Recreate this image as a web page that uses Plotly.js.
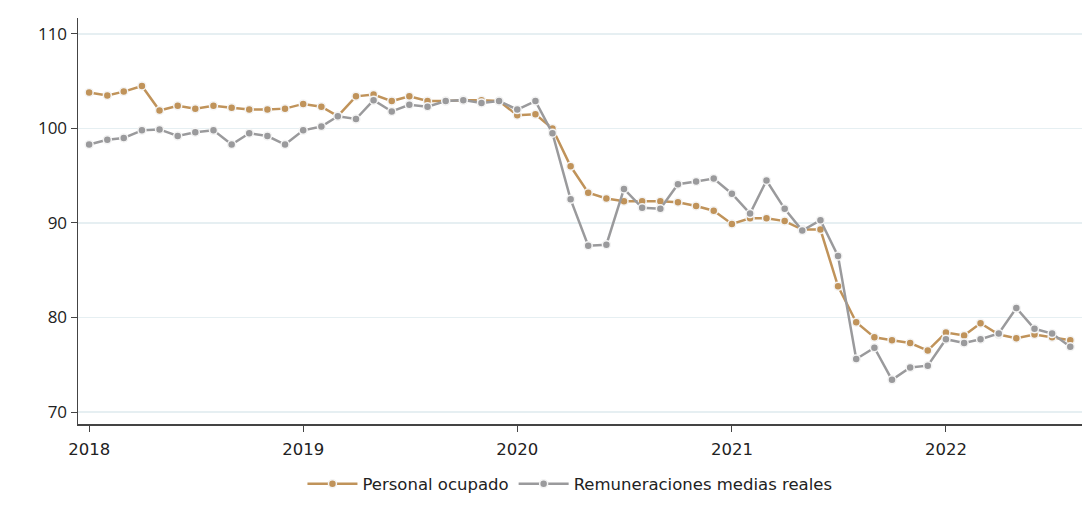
<!DOCTYPE html>
<html>
<head>
<meta charset="utf-8">
<script src="https://cdn.plot.ly/plotly-3.0.1.min.js"></script>
<style>html,body{margin:0;padding:0;background:#fff;}#chart{width:1091px;height:518px;}</style>
</head>
<body>
<div id="chart"></div>
<script>
// Monthly dates Jan 2018 - Aug 2022
const months = [
  "2018-01","2018-02","2018-03","2018-04","2018-05","2018-06","2018-07","2018-08","2018-09","2018-10","2018-11","2018-12",
  "2019-01","2019-02","2019-03","2019-04","2019-05","2019-06","2019-07","2019-08","2019-09","2019-10","2019-11","2019-12",
  "2020-01","2020-02","2020-03","2020-04","2020-05","2020-06","2020-07","2020-08","2020-09","2020-10","2020-11","2020-12",
  "2021-01","2021-02","2021-03","2021-04","2021-05","2021-06","2021-07","2021-08","2021-09","2021-10","2021-11","2021-12",
  "2022-01","2022-02","2022-03","2022-04","2022-05","2022-06","2022-07","2022-08"
];

const personalOcupado = [
  103.8,103.5,103.9,104.5,101.9,102.4,102.1,102.4,102.2,102.0,102.0,102.1,
  102.6,102.3,101.3,103.4,103.6,102.9,103.4,102.9,102.9,103.0,103.0,102.9,
  101.4,101.5,100.0,96.0,93.2,92.6,92.3,92.3,92.3,92.2,91.8,91.3,
  89.9,90.5,90.5,90.2,89.3,89.3,83.3,79.5,77.9,77.6,77.3,76.5,
  78.4,78.1,79.4,78.2,77.8,78.2,77.9,77.6
];

const remuneraciones = [
  98.3,98.8,99.0,99.8,99.9,99.2,99.6,99.8,98.3,99.5,99.2,98.3,
  99.8,100.2,101.3,101.0,103.0,101.8,102.5,102.3,102.9,103.0,102.7,102.9,
  102.0,102.9,99.5,92.5,87.6,87.7,93.6,91.6,91.5,94.1,94.4,94.7,
  93.1,91.0,94.5,91.5,89.2,90.3,86.5,75.6,76.8,73.4,74.7,74.9,
  77.7,77.3,77.7,78.3,81.0,78.8,78.3,76.9
];

const seriesNames = ["Personal ocupado", "Remuneraciones medias reales"];
const yTicks = [70, 80, 90, 100, 110];
const xTickVals = ["2018-01-01","2019-01-01","2020-01-01","2021-01-01","2022-01-01"];
const xTickText = ["2018","2019","2020","2021","2022"];

const dates = months.map(m => m + "-01");
const FONT = "Open Sans, Noto Sans, sans-serif";
const WIDE = "DejaVu Sans, Open Sans, sans-serif";

function trace(y, name, color) {
  return {
    x: dates, y: y, name: name, type: "scatter", mode: "lines+markers",
    line: {color: color, width: 2.5},
    marker: {color: color, size: 8, line: {color: "#f4f4f4", width: 1.5}},
    hoverinfo: "x+y"
  };
}

const data = [
  trace(personalOcupado, seriesNames[0], "#c0935a"),
  trace(remuneraciones, seriesNames[1], "#9a9a9c")
];

const layout = {
  width: 1091, height: 518,
  margin: {l: 78, r: 9, t: 18, b: 94},
  paper_bgcolor: "#ffffff", plot_bgcolor: "#ffffff",
  font: {family: FONT, size: 16, color: "#222222"},
  showlegend: true,
  legend: {orientation: "h", x: 0.49, xanchor: "center", y: -0.148, yanchor: "middle",
           font: {family: WIDE, size: 16.5, color: "#222222"}, itemwidth: 50, traceorder: "normal"},
  xaxis: {
    type: "date", range: ["2017-12-13", "2022-08-21"],
    tickvals: xTickVals, ticktext: xTickText,
    showgrid: false, zeroline: false,
    showline: true, linecolor: "#444444", linewidth: 1.5,
    ticks: "outside", ticklen: 6, tickcolor: "#444444", tickwidth: 1,
    ticklabelstandoff: 4,
    tickfont: {family: WIDE, size: 16.5, color: "#222222"}
  },
  yaxis: {
    range: [68.73, 111.69], tickvals: yTicks, ticktext: yTicks.map(String),
    showgrid: true, gridcolor: "#e6eff2", gridwidth: 1.5, zeroline: false,
    showline: true, linecolor: "#444444", linewidth: 1.5,
    ticks: "outside", ticklen: 6, tickcolor: "#444444", tickwidth: 1,
    tickfont: {family: FONT, size: 17, color: "#222222"}
  }
};

Plotly.newPlot("chart", data, layout, {displayModeBar: false, staticPlot: true});
</script>
</body>
</html>
